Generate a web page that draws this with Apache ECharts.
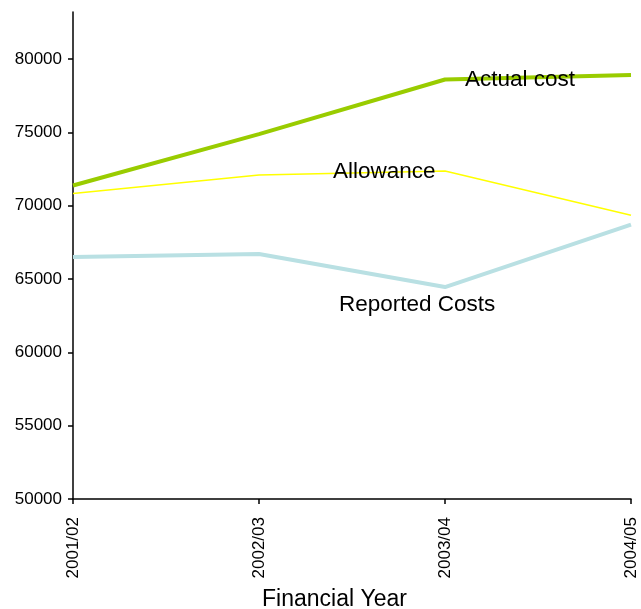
<!DOCTYPE html>
<html>
<head>
<meta charset="utf-8">
<script src="https://cdn.jsdelivr.net/npm/echarts@6/dist/echarts.min.js"></script>
<style>html,body{margin:0;padding:0;background:#fff;}#c{width:641px;height:609px;}</style>
</head>
<body>
<div id="c"></div>
<script>
var categories = ['2001/02', '2002/03', '2003/04', '2004/05'];
var actualCost = [71370, 74870, 78600, 78910];
var allowance = [70820, 72090, 72360, 69340];
var reportedCosts = [66500, 66700, 64450, 68710];
var yTicks = [50000, 55000, 60000, 65000, 70000, 75000, 80000];

var FONT = '"Liberation Sans", Arial, Helvetica, sans-serif';
var chart = echarts.init(document.getElementById('c'));
chart.setOption({
  animation: false,
  backgroundColor: '#fff',
  grid: { left: 73, right: 10, top: 12, bottom: 110, containLabel: false },
  xAxis: {
    type: 'category',
    data: categories,
    boundaryGap: false,
    axisLine: { lineStyle: { color: '#000', width: 1.5 } },
    axisTick: { show: true, length: 5, alignWithLabel: true, lineStyle: { color: '#000', width: 1.5 } },
    axisLabel: { rotate: 90, margin: 18, color: '#000', fontSize: 17, fontFamily: FONT, interval: 0 },
    splitLine: { show: false }
  },
  yAxis: {
    type: 'value',
    min: 50000,
    max: 83200,
    interval: 5000,
    axisLine: { show: true, lineStyle: { color: '#000', width: 1.5 } },
    axisTick: { show: true, length: 5, customValues: yTicks, lineStyle: { color: '#000', width: 1.5 } },
    axisLabel: { margin: 11, color: '#000', fontSize: 17, fontFamily: FONT, customValues: yTicks,
      formatter: function (v) { return String(v); } },
    splitLine: { show: false }
  },
  series: [
    { name: 'Reported Costs', type: 'line', data: reportedCosts, symbol: 'none',
      lineStyle: { color: '#b9e0e3', width: 4 }, z: 2 },
    { name: 'Allowance', type: 'line', data: allowance, symbol: 'none',
      lineStyle: { color: '#ffff00', width: 1.5 }, z: 3 },
    { name: 'Actual cost', type: 'line', data: actualCost, symbol: 'none',
      lineStyle: { color: '#99cc00', width: 4 }, z: 4 }
  ],
  graphic: [
    { type: 'text', left: 465, top: 68, z: 100,
      style: { text: 'Actual cost', font: '22.5px ' + FONT, fill: '#000' } },
    { type: 'text', left: 333, top: 160, z: 100,
      style: { text: 'Allowance', font: '22.5px ' + FONT, fill: '#000' } },
    { type: 'text', left: 339, top: 293, z: 100,
      style: { text: 'Reported Costs', font: '22.5px ' + FONT, fill: '#000' } },
    { type: 'text', left: 262, top: 588, z: 100,
      style: { text: 'Financial Year', font: '23px ' + FONT, fill: '#000' } }
  ]
});
</script>
</body>
</html>
